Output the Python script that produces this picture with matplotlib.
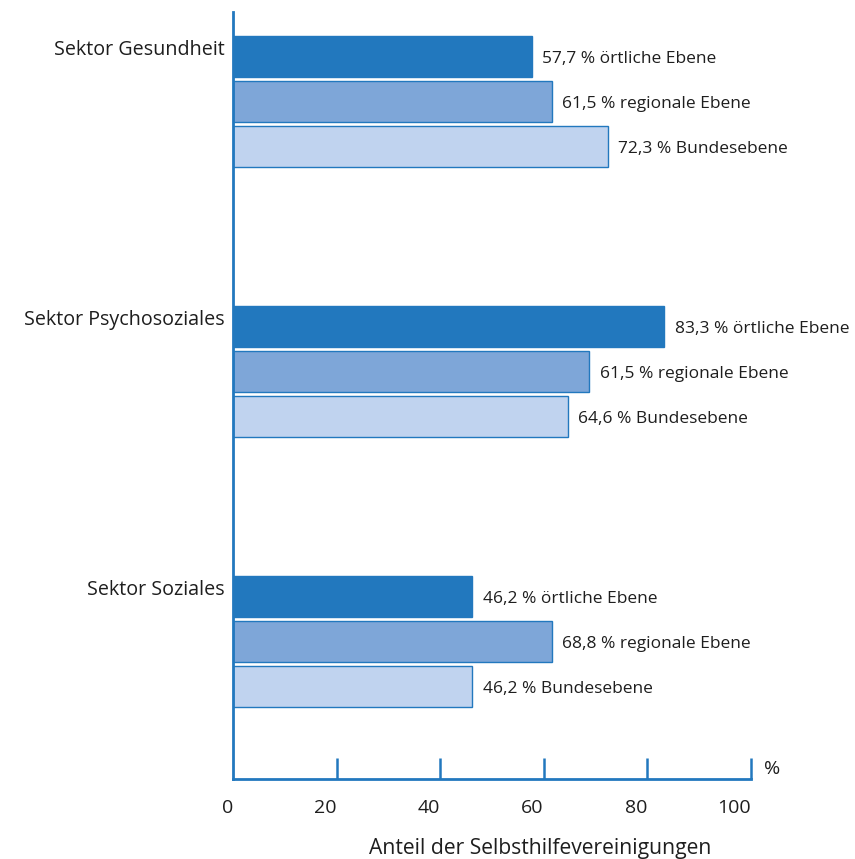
import matplotlib
matplotlib.use("Agg")
import matplotlib.pyplot as plt

plt.rcParams["font.family"] = ["Open Sans", "DejaVu Sans"]

sectors = ["Sektor Gesundheit", "Sektor Psychosoziales", "Sektor Soziales"]
levels = ["örtliche Ebene", "regionale Ebene", "Bundesebene"]
# bar lengths as drawn in the source chart
bar_values = [
    [57.7, 61.5, 72.3],
    [83.3, 68.8, 64.6],
    [46.2, 61.5, 46.2],
]
# values as printed next to the bars
label_values = [
    ["57,7", "61,5", "72,3"],
    ["83,3", "61,5", "64,6"],
    ["46,2", "68,8", "46,2"],
]
ticks = [0, 20, 40, 60, 80, 100]

blue = "#2278be"
colors = ["#2278be", "#7ea6d8", "#c0d3ef"]
text_color = "#1e1e1e"

fig = plt.figure(figsize=(8.55, 8.59), dpi=100)
ax = fig.add_axes([233 / 855, 1 - 779 / 859, (751 - 233) / 855, (779 - 12) / 859])

group_gap = 6
for g, sector in enumerate(sectors):
    for k, level in enumerate(levels):
        y = g * group_gap + k
        ax.barh(y, bar_values[g][k], height=0.91, color=colors[k],
                edgecolor=blue, linewidth=1.0)
        ax.text(bar_values[g][k] + 2.0, y + 0.05,
                f"{label_values[g][k]} % {level}",
                va="center", ha="left", fontsize=12.5, color=text_color)
    ax.text(-1.6, g * group_gap - 0.15, sector, ha="right", va="center",
            fontsize=14.2, color=text_color)

ax.set_xlim(0, 100)
ax.set_ylim((779 - 56.5) / 45, -(56.5 - 12) / 45)

for side in ["top", "right"]:
    ax.spines[side].set_visible(False)
for side in ["left", "bottom"]:
    ax.spines[side].set_color(blue)
    ax.spines[side].set_linewidth(2.0)

ax.set_yticks([])
ax.set_xticks(ticks)
ax.set_xticklabels([])
ax.tick_params(axis="x", direction="in", length=15, width=1.8, color=blue)
ax.xaxis.get_major_ticks()[0].tick1line.set_visible(False)

for t in ticks:
    ax.annotate(str(t), xy=(t, 0), xycoords=("data", "axes fraction"),
                xytext=(0, -21), textcoords="offset points",
                ha="right", va="center", fontsize=14, color=text_color)
ax.annotate("%", xy=(100, 0), xycoords=("data", "axes fraction"),
            xytext=(9, 7), textcoords="offset points",
            ha="left", va="center", fontsize=14, color=text_color)
ax.annotate("Anteil der Selbsthilfevereinigungen", xy=(0.5, 0), xycoords="axes fraction",
            xytext=(34.5, -50), textcoords="offset points",
            ha="center", va="center", fontsize=15.2, color=text_color)

fig.savefig("out.png", dpi=100)
